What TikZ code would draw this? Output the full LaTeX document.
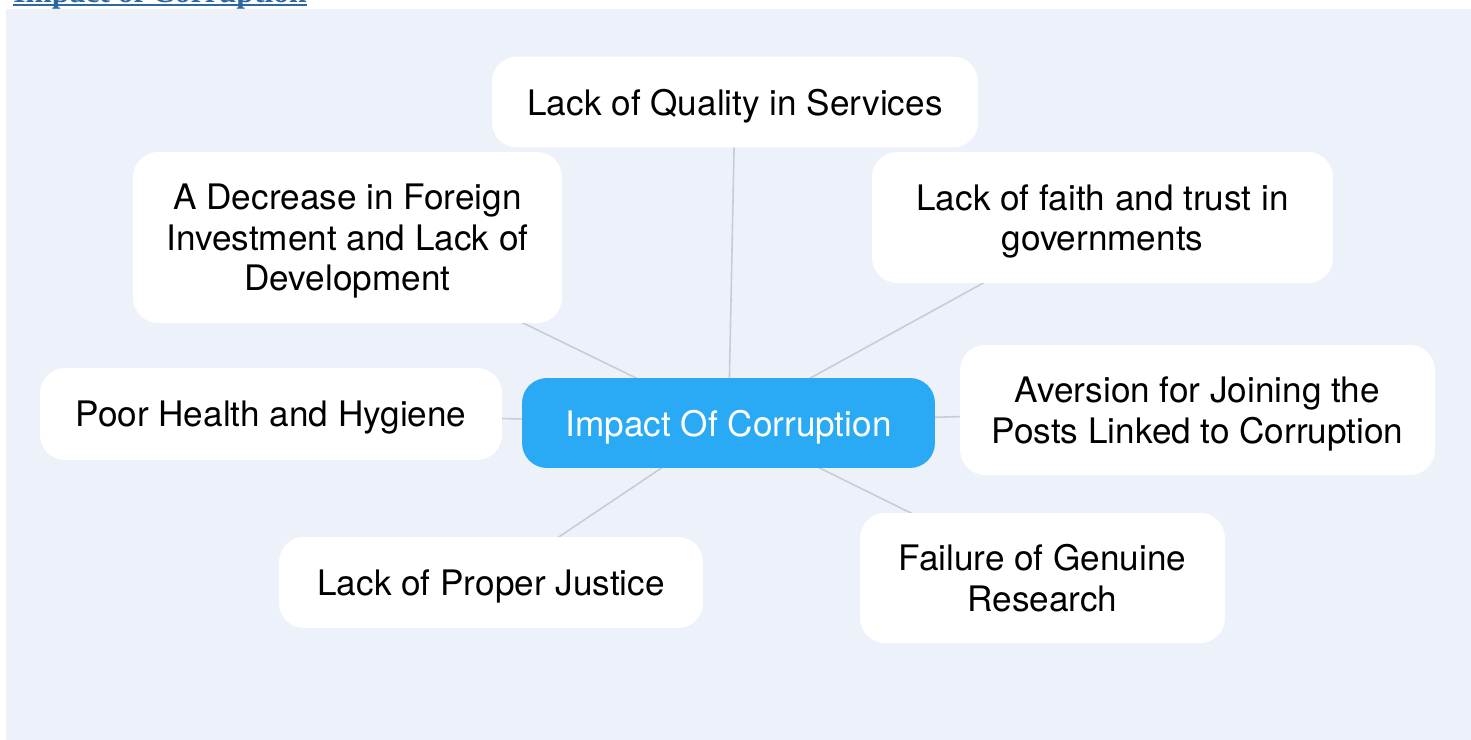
\documentclass[tikz,border=0pt]{standalone}
\usepackage{fontspec}
\setmainfont{TeX Gyre Heros}
\newfontfamily\headfont{Liberation Serif}
\definecolor{panelbg}{HTML}{EDF1F9}
\definecolor{hubblue}{HTML}{2AAAF5}
\definecolor{linkgray}{HTML}{C8CDD5}
\definecolor{headblue}{HTML}{2E68A0}
\pgfdeclarelayer{edges}
\pgfsetlayers{edges,main}

\begin{document}
\begin{tikzpicture}[
    x=0.02cm, y=-0.02cm,
    box/.style={rectangle, rounded corners=0.5cm, fill=white, align=center, inner sep=0pt, text depth=0pt, font=\fontsize{20}{23}\selectfont},
    hub/.style={box, fill=hubblue, text=white},
    link/.style={draw=linkgray, line width=0.9pt}
]
    \useasboundingbox (0,0) rectangle (1471,740);

    \node[font=\headfont\bfseries\fontsize{18}{20}\selectfont, text=headblue, anchor=base west, inner sep=0pt] (head) at (13,3) {Impact of Corruption};
    \draw[headblue, line width=1.1pt] ([yshift=-1.3pt]head.base west) -- ([yshift=-1.3pt]head.base east);

    \node[hub, minimum width=8.26cm, minimum height=1.8cm] (impact) at (728.5,423) {Impact Of Corruption};
    \node[box, minimum width=9.72cm, minimum height=1.82cm] (quality) at (735,102) {Lack of Quality in Services};
    \node[box, minimum width=8.58cm, minimum height=3.42cm] (foreign) at (347.5,237.5) {A Decrease in Foreign\\Investment and Lack of\\Development};
    \node[box, minimum width=9.22cm, minimum height=2.62cm] (faith) at (1102.5,217.5) {Lack of faith and trust in\\governments};
    \node[box, minimum width=9.24cm, minimum height=1.84cm] (health) at (271,414) {Poor Health and Hygiene};
    \node[box, minimum width=9.5cm, minimum height=2.6cm] (aversion) at (1197.5,410) {Aversion for Joining the\\Posts Linked to Corruption};
    \node[box, minimum width=8.48cm, minimum height=1.82cm] (justice) at (491,582.5) {Lack of Proper Justice};
    \node[box, minimum width=7.3cm, minimum height=2.6cm] (research) at (1042.5,578) {Failure of Genuine\\Research};

    \begin{pgfonlayer}{edges}
        \fill[panelbg] (6,9) rectangle (1471,740);
        \foreach \leaf in {quality, foreign, faith, health, aversion, justice, research}
            \draw[link] (impact.center) -- (\leaf.center);
    \end{pgfonlayer}
\end{tikzpicture}
\end{document}
